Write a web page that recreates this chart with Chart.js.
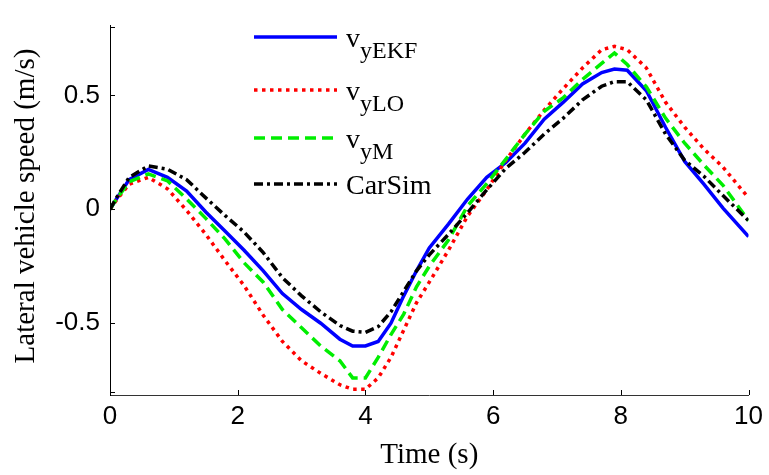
<!DOCTYPE html>
<html>
<head>
<meta charset="utf-8">
<script src="https://cdn.jsdelivr.net/npm/chart.js@4.4.0/dist/chart.umd.min.js"></script>
<style>
  html, body { margin: 0; padding: 0; background: #fff; }
</style>
</head>
<body>
<canvas id="speedChart" width="769" height="475"></canvas>
<script>
// time axis (s)
var time = [0, 0.1, 0.3, 0.6, 0.9, 1.2, 1.5, 1.8, 2.1, 2.4, 2.7, 3.0, 3.3, 3.6, 3.8, 4.0, 4.2, 4.4, 4.6, 4.8,
            5.0, 5.3, 5.6, 5.9, 6.2, 6.5, 6.8, 7.1, 7.4, 7.7, 7.9, 8.1, 8.4, 8.7, 9.0, 9.3, 9.6, 10];

// lateral speed (m/s)
var vyEKF = [0, 0.045, 0.13, 0.175, 0.14, 0.08, -0.012, -0.095, -0.18, -0.27, -0.37, -0.44, -0.50, -0.57, -0.60, -0.60, -0.58, -0.50, -0.38, -0.27,
             -0.17, -0.065, 0.045, 0.14, 0.205, 0.29, 0.395, 0.47, 0.55, 0.60, 0.615, 0.61, 0.52, 0.36, 0.21, 0.11, 0.005, -0.12];
var vyLO = [0, 0.04, 0.11, 0.14, 0.09, -0.005, -0.11, -0.225, -0.335, -0.465, -0.58, -0.665, -0.72, -0.77, -0.79, -0.79, -0.74, -0.65, -0.53, -0.41,
            -0.32, -0.18, -0.03, 0.085, 0.215, 0.33, 0.435, 0.53, 0.62, 0.70, 0.715, 0.70, 0.62, 0.47, 0.36, 0.265, 0.185, 0.05];
var vyM = [0, 0.045, 0.12, 0.155, 0.125, 0.045, -0.04, -0.13, -0.235, -0.32, -0.44, -0.52, -0.60, -0.665, -0.74, -0.74, -0.65, -0.55, -0.46, -0.34,
           -0.25, -0.135, 0.015, 0.112, 0.22, 0.33, 0.43, 0.49, 0.57, 0.64, 0.686, 0.635, 0.537, 0.40, 0.29, 0.195, 0.105, -0.05];
var carSim = [0, 0.05, 0.14, 0.19, 0.176, 0.13, 0.05, -0.027, -0.10, -0.19, -0.30, -0.38, -0.45, -0.51, -0.535, -0.54, -0.515, -0.45, -0.36, -0.27,
              -0.20, -0.11, -0.015, 0.085, 0.18, 0.25, 0.33, 0.40, 0.48, 0.54, 0.56, 0.56, 0.48, 0.33, 0.215, 0.145, 0.06, -0.05];

var xTicks = [0, 2, 4, 6, 8, 10];
var yTicks = [-0.5, 0, 0.5];
var yTickMarks = [-0.8, -0.5, 0, 0.5, 0.8];

var legendMain = ['v', 'v', 'v', 'CarSim'];
var legendSub = ['yEKF', 'yLO', 'yM', ''];

function pts(vals) {
    return time.map(function(t, i) { return { x: t, y: vals[i] }; });
}

var axisDecor = {
    id: 'axisDecor',
    afterDraw: function(chart) {
        var ctx = chart.ctx, a = chart.chartArea;
        var xs = chart.scales.x, ys = chart.scales.y;
        ctx.save();
        ctx.strokeStyle = '#000';
        ctx.lineWidth = 1;
        ctx.setLineDash([]);
        // inward tick marks
        xTicks.forEach(function(v) {
            var px = Math.round(xs.getPixelForValue(v)) + 0.5;
            ctx.beginPath(); ctx.moveTo(px, a.bottom); ctx.lineTo(px, a.bottom - 5); ctx.stroke();
        });
        yTickMarks.forEach(function(v) {
            var py = Math.round(ys.getPixelForValue(v)) + 0.5;
            ctx.beginPath(); ctx.moveTo(a.left, py); ctx.lineTo(a.left + 5, py); ctx.stroke();
        });

        // axis titles
        ctx.fillStyle = '#000';
        ctx.font = '29px "Liberation Serif"';
        ctx.textAlign = 'center';
        ctx.textBaseline = 'middle';
        ctx.fillText('Time (s)', (a.left + a.right) / 2, 455);
        ctx.save();
        ctx.translate(26, 206);
        ctx.rotate(-Math.PI / 2);
        ctx.fillText('Lateral vehicle speed (m/s)', 0, 0);
        ctx.restore();

        // legend
        var rowY = [37, 90, 138, 184];
        chart.data.datasets.forEach(function(ds, i) {
            var y = rowY[i];
            ctx.strokeStyle = ds.borderColor;
            ctx.lineWidth = ds.borderWidth;
            ctx.setLineDash(ds.borderDash || []);
            ctx.beginPath(); ctx.moveTo(254, y); ctx.lineTo(337, y); ctx.stroke();
            ctx.setLineDash([]);
            ctx.textAlign = 'left';
            ctx.textBaseline = 'alphabetic';
            ctx.font = '28px "Liberation Serif"';
            ctx.fillText(legendMain[i], 346, y + 10);
            if (legendSub[i]) {
                var w = ctx.measureText(legendMain[i]).width;
                ctx.font = '24px "Liberation Serif"';
                ctx.fillText(legendSub[i], 346 + w, y + 21);
            }
        });
        ctx.restore();
    }
};

var ctx = document.getElementById('speedChart').getContext('2d');
var chart = new Chart(ctx, {
    type: 'line',
    data: {
        datasets: [
            { label: 'vyEKF', data: pts(vyEKF), borderColor: '#0000ff', borderWidth: 3.5, order: 4 },
            { label: 'vyLO', data: pts(vyLO), borderColor: '#ff0000', borderWidth: 3.5, borderDash: [3.5, 4.5], order: 3 },
            { label: 'vyM', data: pts(vyM), borderColor: '#00ee00', borderWidth: 3.5, borderDash: [11, 6], order: 2 },
            { label: 'CarSim', data: pts(carSim), borderColor: '#000000', borderWidth: 3.5, borderDash: [9, 4, 3, 4], order: 1 }
        ]
    },
    options: {
        responsive: false,
        animation: false,
        layout: { padding: { top: 14, right: 19, left: 0, bottom: 0 } },
        elements: { point: { radius: 0 }, line: { tension: 0, fill: false } },
        plugins: { legend: { display: false }, tooltip: { enabled: false } },
        scales: {
            x: {
                type: 'linear', min: 0, max: 10,
                afterBuildTicks: function(s) { s.ticks = xTicks.map(function(v) { return { value: v }; }); },
                afterFit: function(s) { s.height = 80; },
                grid: { display: false, drawTicks: false },
                border: { display: true, color: '#333', width: 1 },
                ticks: { color: '#000', font: { family: 'Liberation Sans', size: 26 }, padding: 6, maxRotation: 0,
                         callback: function(v) { return String(v); } }
            },
            y: {
                type: 'linear', min: -0.815, max: 0.806,
                afterBuildTicks: function(s) { s.ticks = yTicks.map(function(v) { return { value: v }; }); },
                afterFit: function(s) { s.width = 110; },
                grid: { display: false, drawTicks: false },
                border: { display: true, color: '#000', width: 1 },
                ticks: { color: '#000', font: { family: 'Liberation Sans', size: 26 }, padding: 10,
                         callback: function(v) { return String(v); } }
            }
        }
    },
    plugins: [axisDecor]
});
</script>
</body>
</html>
